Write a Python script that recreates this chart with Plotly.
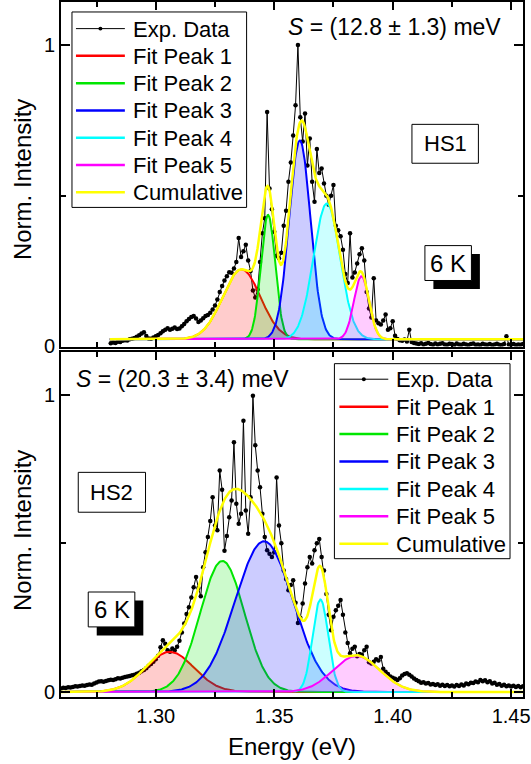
import numpy as np
import plotly.graph_objects as go

FONT = "Arial, 'Liberation Sans', sans-serif"

# ---------------- HS1 (upper panel) ----------------
hs1_energy = [
    1.281, 1.282, 1.283, 1.284, 1.285, 1.286, 1.287, 1.288, 1.289, 1.290,
    1.291, 1.292, 1.293, 1.294, 1.295, 1.296, 1.297, 1.298, 1.299, 1.300,
    1.301, 1.302, 1.303, 1.304, 1.305, 1.306, 1.307, 1.308, 1.309, 1.310,
    1.311, 1.312, 1.313, 1.314, 1.315, 1.316, 1.317, 1.318, 1.319, 1.320,
    1.321, 1.322, 1.323, 1.324, 1.325, 1.326, 1.327, 1.328, 1.329, 1.330,
    1.331, 1.332, 1.333, 1.334, 1.335, 1.336, 1.337, 1.338, 1.339, 1.340,
    1.341, 1.342, 1.343, 1.344, 1.345, 1.346, 1.347, 1.348, 1.349, 1.350,
    1.351, 1.352, 1.353, 1.354, 1.355, 1.356, 1.357, 1.358, 1.359, 1.360,
    1.361, 1.362, 1.363, 1.364, 1.365, 1.366, 1.367, 1.368, 1.369, 1.370,
    1.371, 1.372, 1.373, 1.374, 1.375, 1.376, 1.377, 1.378, 1.379, 1.380,
    1.381, 1.382, 1.383, 1.384, 1.385, 1.386, 1.387, 1.388, 1.389, 1.390,
    1.391, 1.392, 1.393, 1.394, 1.395, 1.396, 1.397, 1.398, 1.399, 1.400,
    1.401, 1.402, 1.403, 1.404, 1.405, 1.406, 1.407, 1.408, 1.409, 1.410,
    1.411, 1.412, 1.413, 1.414, 1.415, 1.416, 1.417, 1.418, 1.419, 1.420,
    1.421, 1.422, 1.423, 1.424, 1.425, 1.426, 1.427, 1.428, 1.429, 1.430,
    1.431, 1.432, 1.433, 1.434, 1.435, 1.436, 1.437, 1.438, 1.439, 1.440,
    1.441, 1.442, 1.443, 1.444, 1.445, 1.446, 1.447, 1.448, 1.449, 1.450,
    1.451, 1.452, 1.453, 1.454, 1.455,
]
hs1_intensity = [
    0.010, 0.012, 0.011, 0.015, 0.014, 0.018, 0.020, 0.019, 0.023, 0.025,
    0.027, 0.031, 0.036, 0.042, 0.046, 0.034, 0.026, 0.025, 0.029, 0.033,
    0.037, 0.043, 0.050, 0.055, 0.060, 0.055, 0.058, 0.062, 0.057, 0.059,
    0.066, 0.074, 0.083, 0.090, 0.097, 0.100, 0.092, 0.080, 0.085, 0.093,
    0.100, 0.104, 0.111, 0.122, 0.135, 0.155, 0.180, 0.200, 0.218, 0.232,
    0.246, 0.244, 0.258, 0.280, 0.359, 0.296, 0.315, 0.337, 0.285, 0.250,
    0.185, 0.162, 0.188, 0.280, 0.375, 0.425, 0.778, 0.524, 0.455, 0.380,
    0.300, 0.292, 0.310, 0.400, 0.450, 0.546, 0.610, 0.700, 0.800, 1.000,
    0.760, 0.680, 0.773, 0.600, 0.690, 0.546, 0.480, 0.655, 0.575, 0.590,
    0.540, 0.500, 0.470, 0.500, 0.535, 0.400, 0.385, 0.365, 0.320, 0.240,
    0.210, 0.375, 0.228, 0.245, 0.275, 0.305, 0.325, 0.285, 0.180, 0.125,
    0.095, 0.226, 0.085, 0.076, 0.072, 0.085, 0.105, 0.055, 0.060, 0.083,
    0.035, 0.024, 0.020, 0.018, 0.022, 0.016, 0.055, 0.014, 0.011, 0.009,
    0.007, 0.010, 0.006, 0.008, 0.011, 0.007, 0.005, 0.009, 0.006, 0.008,
    0.010, 0.006, 0.005, 0.008, 0.007, 0.004, 0.009, 0.006, 0.005, 0.008,
    0.006, 0.004, 0.007, 0.009, 0.005, 0.006, 0.004, 0.008, 0.006, 0.005,
    0.007, 0.004, 0.006, 0.008, 0.005, 0.004, 0.007, 0.033, 0.006, 0.005,
    0.007, 0.004, 0.006, 0.005, 0.007,
]
# Gaussian fit results: centre (eV), height (norm.), FWHM (eV), constant offset
hs1_center = [1.3362, 1.3474, 1.3608, 1.3722, 1.3868]
hs1_height = [0.232, 0.413, 0.660, 0.451, 0.209]
hs1_fwhm = [0.0188, 0.0071, 0.0106, 0.0132, 0.0075]
hs1_offset = 0.023
hs1_fit_span = (1.2806, 1.4570)
hs1_label = "HS1"
hs1_shift = "<i>S</i> = (12.8 ± 1.3) meV"

# ---------------- HS2 (lower panel) ----------------
hs2_energy = [
    1.260, 1.261, 1.262, 1.263, 1.264, 1.265, 1.266, 1.267, 1.268, 1.269,
    1.270, 1.271, 1.272, 1.273, 1.274, 1.275, 1.276, 1.277, 1.278, 1.279,
    1.280, 1.281, 1.282, 1.283, 1.284, 1.285, 1.286, 1.287, 1.288, 1.289,
    1.290, 1.291, 1.292, 1.293, 1.294, 1.295, 1.296, 1.297, 1.298, 1.299,
    1.300, 1.301, 1.302, 1.303, 1.304, 1.305, 1.306, 1.307, 1.308, 1.309,
    1.310, 1.311, 1.312, 1.313, 1.314, 1.315, 1.316, 1.317, 1.318, 1.319,
    1.320, 1.321, 1.322, 1.323, 1.324, 1.325, 1.326, 1.327, 1.328, 1.329,
    1.330, 1.331, 1.332, 1.333, 1.334, 1.335, 1.336, 1.337, 1.338, 1.339,
    1.340, 1.341, 1.342, 1.343, 1.344, 1.345, 1.346, 1.347, 1.348, 1.349,
    1.350, 1.351, 1.352, 1.353, 1.354, 1.355, 1.356, 1.357, 1.358, 1.359,
    1.360, 1.361, 1.362, 1.363, 1.364, 1.365, 1.366, 1.367, 1.368, 1.369,
    1.370, 1.371, 1.372, 1.373, 1.374, 1.375, 1.376, 1.377, 1.378, 1.379,
    1.380, 1.381, 1.382, 1.383, 1.384, 1.385, 1.386, 1.387, 1.388, 1.389,
    1.390, 1.391, 1.392, 1.393, 1.394, 1.395, 1.396, 1.397, 1.398, 1.399,
    1.400, 1.401, 1.402, 1.403, 1.404, 1.405, 1.406, 1.407, 1.408, 1.409,
    1.410, 1.411, 1.412, 1.413, 1.414, 1.415, 1.416, 1.417, 1.418, 1.419,
    1.420, 1.421, 1.422, 1.423, 1.424, 1.425, 1.426, 1.427, 1.428, 1.429,
    1.430, 1.431, 1.432, 1.433, 1.434, 1.435, 1.436, 1.437, 1.438, 1.439,
    1.440, 1.441, 1.442, 1.443, 1.444, 1.445, 1.446, 1.447, 1.448, 1.449,
    1.450, 1.451, 1.452, 1.453, 1.454, 1.455,
]
hs2_intensity = [
    0.012, 0.014, 0.013, 0.016, 0.015, 0.017, 0.019, 0.018, 0.020, 0.022,
    0.021, 0.023, 0.025, 0.024, 0.028, 0.032, 0.035, 0.036, 0.034, 0.037,
    0.039, 0.041, 0.040, 0.043, 0.046, 0.045, 0.048, 0.050, 0.052, 0.054,
    0.056, 0.058, 0.061, 0.065, 0.070, 0.074, 0.080, 0.088, 0.094, 0.102,
    0.110, 0.122, 0.150, 0.174, 0.162, 0.140, 0.135, 0.146, 0.140, 0.152,
    0.172, 0.200, 0.230, 0.262, 0.285, 0.318, 0.352, 0.387, 0.350, 0.322,
    0.420, 0.470, 0.521, 0.575, 0.655, 0.560, 0.544, 0.745, 0.680, 0.475,
    0.525, 0.588, 0.644, 0.840, 0.633, 0.566, 0.600, 0.913, 0.611, 0.532,
    0.655, 0.997, 0.830, 0.745, 0.689, 0.600, 0.521, 0.477, 0.465, 0.454,
    0.470, 0.722, 0.560, 0.500, 0.409, 0.380, 0.342, 0.360, 0.376, 0.300,
    0.232, 0.250, 0.298, 0.365, 0.420, 0.454, 0.432, 0.477, 0.500, 0.515,
    0.454, 0.409, 0.330, 0.260, 0.208, 0.253, 0.275, 0.290, 0.309, 0.260,
    0.200, 0.165, 0.130, 0.145, 0.152, 0.120, 0.128, 0.125, 0.140, 0.152,
    0.100, 0.096, 0.102, 0.110, 0.106, 0.118, 0.078, 0.068, 0.060, 0.052,
    0.048, 0.044, 0.040, 0.046, 0.055, 0.060, 0.063, 0.058, 0.052, 0.045,
    0.040, 0.036, 0.031, 0.033, 0.028, 0.030, 0.025, 0.027, 0.023, 0.026,
    0.021, 0.024, 0.020, 0.023, 0.019, 0.022, 0.018, 0.023, 0.020, 0.025,
    0.022, 0.028, 0.026, 0.031, 0.030, 0.035, 0.033, 0.040, 0.036, 0.039,
    0.033, 0.036, 0.028, 0.031, 0.024, 0.027, 0.021, 0.024, 0.019, 0.022,
    0.018, 0.021, 0.017, 0.020, 0.016, 0.019,
]
hs2_center = [1.3059, 1.3281, 1.3457, 1.3695, 1.3847]
hs2_height = [0.135, 0.441, 0.507, 0.311, 0.121]
hs2_fwhm = [0.0240, 0.0219, 0.0287, 0.0078, 0.0232]
hs2_offset = 0.0
hs2_fit_span = (1.2590, 1.4570)
hs2_label = "HS2"
hs2_shift = "<i>S</i> = (20.3 ± 3.4) meV"

temperature = "6 K"
y_title = "Norm. Intensity"
x_title = "Energy (eV)"
legend_names = ["Exp. Data", "Fit Peak 1", "Fit Peak 2", "Fit Peak 3", "Fit Peak 4",
                "Fit Peak 5", "Cumulative"]
peak_colors = ["#FF0000", "#00E600", "#0000FF", "#00FFFF", "#FF00FF"]
peak_fills = ["rgba(255,0,0,0.2)", "rgba(0,230,0,0.2)", "rgba(0,0,255,0.2)",
              "rgba(0,255,255,0.2)", "rgba(255,0,255,0.2)"]
cumulative_color = "#FFFF00"

# ---------------- page geometry (pixels) ----------------
W, H = 531, 764
ML, MR, MT, MB = 61, 7, 0, 67
PW, PH = W - ML - MR, H - MT - MB


def px(x):
    return (x - ML) / PW


def py(y):
    return 1 - (y - MT) / PH


fig = go.Figure()


def add_panel(energy, intensity, center, height, fwhm, offset, span, xa, ya):
    fig.add_trace(go.Scatter(
        x=energy, y=intensity, mode="lines+markers", name=legend_names[0],
        line=dict(color="black", width=1), marker=dict(color="black", size=4.5),
        xaxis=xa, yaxis=ya, showlegend=False))
    grid = np.linspace(span[0], span[1], 700)
    base = np.full_like(grid, offset)
    total = base.copy()
    for c, h, w, name, col, fc in zip(center, height, fwhm, legend_names[1:6],
                                      peak_colors, peak_fills):
        sig = w / (2 * np.sqrt(2 * np.log(2)))
        g = h * np.exp(-(grid - c) ** 2 / (2 * sig ** 2))
        total += g
        fig.add_trace(go.Scatter(
            x=np.concatenate([grid, grid[::-1]]), y=np.concatenate([offset + g, base[::-1]]),
            fill="toself", fillcolor=fc, line=dict(width=0), mode="lines",
            hoverinfo="skip", showlegend=False, xaxis=xa, yaxis=ya))
        fig.add_trace(go.Scatter(
            x=grid, y=offset + g, mode="lines", name=name,
            line=dict(color=col, width=2), xaxis=xa, yaxis=ya, showlegend=False))
    fig.add_trace(go.Scatter(
        x=grid, y=total, mode="lines", name=legend_names[6],
        line=dict(color=cumulative_color, width=2.5), xaxis=xa, yaxis=ya, showlegend=False))


add_panel(hs1_energy, hs1_intensity, hs1_center, hs1_height, hs1_fwhm, hs1_offset,
          hs1_fit_span, "x", "y")
add_panel(hs2_energy, hs2_intensity, hs2_center, hs2_height, hs2_fwhm, hs2_offset,
          hs2_fit_span, "x2", "y2")

xcommon = dict(range=[1.26, 1.455], tick0=1.30, dtick=0.05, tickformat=".2f",
               ticks="inside", ticklen=8, tickwidth=2, tickcolor="black",
               showline=True, linewidth=2, linecolor="black",
               mirror="ticks", showgrid=False, zeroline=False, ticklabeloverflow="allow",
               minor=dict(ticks="inside", dtick=0.025, tick0=1.275, ticklen=5,
                          tickwidth=2, tickcolor="black"),
               tickfont=dict(family=FONT, size=20, color="black"))
ycommon = dict(dtick=1, tick0=0, ticks="inside", ticklen=9, tickwidth=2, tickcolor="black",
               showline=True, linewidth=2, linecolor="black", mirror="ticks",
               showgrid=False, zeroline=False,
               minor=dict(ticks="inside", dtick=0.5, ticklen=5, tickwidth=2, tickcolor="black"),
               tickfont=dict(family=FONT, size=20, color="black"))

fig.update_layout(
    width=W, height=H, margin=dict(l=ML, r=MR, t=MT, b=MB),
    paper_bgcolor="white", plot_bgcolor="white",
    font=dict(family=FONT, color="black"),
    showlegend=False,
    xaxis=dict(xcommon, anchor="y", showticklabels=False),
    yaxis=dict(ycommon, anchor="x", domain=[py(345.5), 1], range=[-0.001, 1.143]),
    xaxis2=dict(xcommon, anchor="y2", matches="x"),
    yaxis2=dict(ycommon, anchor="x2", domain=[0, py(351)], range=[-0.017, 1.144]),
)

shapes = []
annotations = []


def label(x, y, text, size, anchor="center", angle=0):
    annotations.append(dict(xref="paper", yref="paper", x=px(x), y=py(y), text=text,
                            showarrow=False, xanchor=anchor, yanchor="middle",
                            textangle=angle,
                            font=dict(family=FONT, size=size, color="black")))


def text_box(x0, y0, x1, y1, text, size, shadow=None):
    if shadow:
        shapes.append(dict(type="rect", xref="paper", yref="paper",
                           x0=px(x0 + shadow), x1=px(x1 + shadow),
                           y0=py(y0 + shadow), y1=py(y1 + shadow),
                           fillcolor="black", line=dict(width=0), layer="above"))
    shapes.append(dict(type="rect", xref="paper", yref="paper",
                       x0=px(x0), x1=px(x1), y0=py(y0), y1=py(y1),
                       fillcolor="white", line=dict(color="black", width=1), layer="above"))
    label((x0 + x1) / 2, (y0 + y1) / 2, text, size)


def legend_box(x0, y0, x1, y1, first_row, row_step, line_x0, line_x1, text_x):
    shapes.append(dict(type="rect", xref="paper", yref="paper",
                       x0=px(x0), x1=px(x1), y0=py(y0), y1=py(y1),
                       fillcolor="white", line=dict(color="black", width=1), layer="above"))
    colors = ["black"] + peak_colors + [cumulative_color]
    for i, (name, col) in enumerate(zip(legend_names, colors)):
        yy = first_row + i * row_step
        shapes.append(dict(type="line", xref="paper", yref="paper",
                           x0=px(line_x0), x1=px(line_x1), y0=py(yy), y1=py(yy),
                           line=dict(color=col, width=1 if i == 0 else 2.5), layer="above"))
        if i == 0:
            xm = (line_x0 + line_x1) / 2
            shapes.append(dict(type="circle", xref="paper", yref="paper",
                               x0=px(xm - 2), x1=px(xm + 2), y0=py(yy - 2), y1=py(yy + 2),
                               fillcolor="black", line=dict(width=0), layer="above"))
        label(text_x, yy + 0.5, name, 22, anchor="left")


legend_box(72, 10, 247, 206, 26.7, 27.33, 76, 125, 131)
legend_box(335, 362.7, 511, 558.3, 378.3, 27.5, 340, 389, 395)

text_box(412.7, 122.7, 479.3, 161.7, hs1_label, 22)
text_box(425.7, 244.3, 472.3, 279.3, temperature, 24, shadow=8.5)
text_box(78.3, 471.7, 145.7, 511.7, hs2_label, 22)
text_box(88.3, 591.7, 135.0, 626.7, temperature, 24, shadow=8.5)

label(395.5, 25, hs1_shift, 23)
label(183, 378, hs2_shift, 23)

# axis titles
label(22.5, 178, y_title, 24, angle=-90)
label(22.5, 530, y_title, 24, angle=-90)
label(292, 747, x_title, 24)

fig.update_layout(shapes=shapes, annotations=annotations)
fig.write_html("out.html")
